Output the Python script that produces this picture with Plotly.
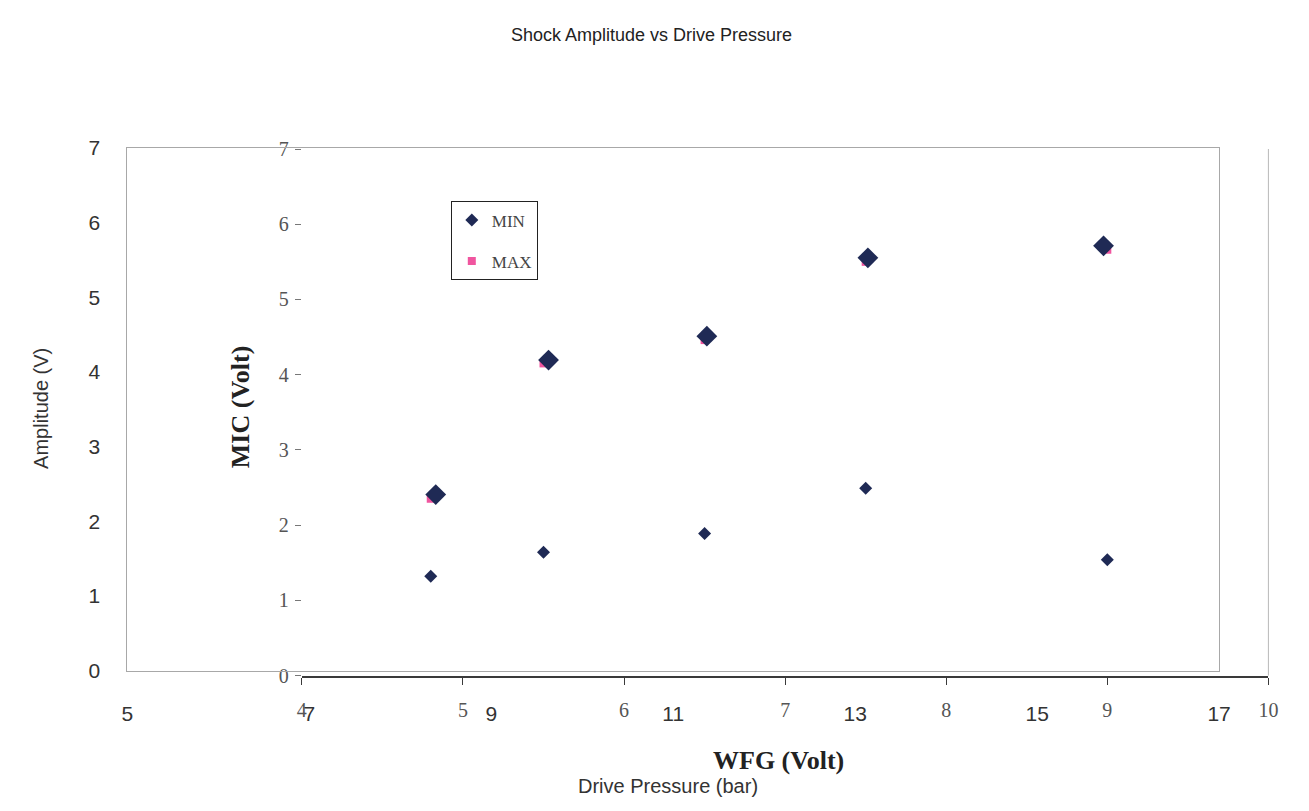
import plotly.graph_objects as go

W, H = 1309, 811

# Inner chart: MIC vs WFG
wfg = [4.8, 5.5, 6.5, 7.5, 9.0]
mic_min = [1.32, 1.64, 1.89, 2.49, 1.54]
mic_max = [2.35, 4.15, 4.46, 5.5, 5.66]

# Outer chart: Shock amplitude vs drive pressure
pressure = [8.39, 9.63, 11.37, 13.14, 15.73]
amplitude = [2.36, 4.16, 4.48, 5.53, 5.69]

outer_x_ticks = [5, 7, 9, 11, 13, 15, 17]
outer_y_ticks = [0, 1, 2, 3, 4, 5, 6, 7]
inner_x_ticks = [4, 5, 6, 7, 8, 9, 10]
inner_y_ticks = [0, 1, 2, 3, 4, 5, 6, 7]


def px(x):
    return x / W


def py(y):
    return 1 - y / H


NAVY = "#1f2a55"
PINK = "#f0559f"
SANS = "Liberation Sans, Arial, sans-serif"
SERIF = "Liberation Serif, Times New Roman, serif"

fig = go.Figure()

fig.add_trace(go.Scatter(
    x=wfg, y=mic_max, name="MAX", mode="markers",
    xaxis="x", yaxis="y", legendgroup="b", legendrank=2,
    marker=dict(symbol="square", size=8, color=PINK),
))
fig.add_trace(go.Scatter(
    x=wfg, y=mic_min, name="MIN", mode="markers",
    xaxis="x", yaxis="y", legendgroup="a", legendrank=1,
    marker=dict(symbol="diamond", size=10, color=NAVY),
))
fig.add_trace(go.Scatter(
    x=pressure, y=amplitude, name="Amplitude", mode="markers",
    xaxis="x2", yaxis="y2", showlegend=False,
    marker=dict(symbol="diamond", size=16, color=NAVY),
))

fig.update_layout(
    width=W, height=H,
    margin=dict(l=0, r=0, t=0, b=0),
    paper_bgcolor="white",
    plot_bgcolor="rgba(0,0,0,0)",
    showlegend=True,
    legend=dict(
        x=px(451), y=py(195), xanchor="left", yanchor="top",
        bordercolor="#222", borderwidth=1, bgcolor="white",
        font=dict(family=SERIF, size=17, color="#444"),
        traceorder="grouped", tracegroupgap=16, itemwidth=30,
    ),
    # inner axes (WFG / MIC)
    xaxis=dict(
        domain=[px(300), px(1280)], range=[4, 10], anchor="y",
        tickvals=inner_x_ticks, showgrid=False, zeroline=False,
        showline=True, linecolor="#3a3a3a", linewidth=2,
        ticks="outside", ticklen=7, tickcolor="#3a3a3a", tickwidth=1,
        tickfont=dict(family=SERIF, size=20, color="#555"),
        ticklabelstandoff=8,
    ),
    yaxis=dict(
        domain=[py(683), py(141)], range=[0, 7], anchor="x",
        tickvals=inner_y_ticks, showgrid=False, zeroline=False,
        showline=False,
        ticks="outside", ticklen=6, tickcolor="#777", tickwidth=1,
        tickfont=dict(family=SERIF, size=20, color="#555"),
        ticklabelstandoff=2,
    ),
    # outer axes (Drive pressure / Amplitude)
    xaxis2=dict(
        domain=[px(123), px(1230)], range=[5, 17], anchor="y2",
        tickvals=outer_x_ticks, showgrid=False, zeroline=False,
        showline=True, mirror=True, linecolor="#a8a8a8", linewidth=1,
        ticks="", tickfont=dict(family=SANS, size=21, color="#333"),
        ticklabelstandoff=24,
    ),
    yaxis2=dict(
        domain=[py(678), py(140)], range=[0, 7], anchor="x2",
        tickvals=outer_y_ticks, showgrid=False, zeroline=False,
        showline=True, mirror=True, linecolor="#a8a8a8", linewidth=1,
        ticks="", tickfont=dict(family=SANS, size=21, color="#333"),
        ticklabelstandoff=22,
    ),
    shapes=[dict(
        type="line", xref="x domain", yref="y domain",
        x0=1, x1=1, y0=0, y1=1,
        line=dict(color="#b8b8b8", width=1),
    )],
    annotations=[
        dict(text="Shock Amplitude vs Drive Pressure", x=px(654), y=py(24),
             xref="paper", yref="paper", showarrow=False,
             xanchor="center", yanchor="middle",
             font=dict(family=SANS, size=18, color="#222")),
        dict(text="Amplitude (V)", x=px(36), y=py(408), textangle=-90,
             xref="paper", yref="paper", showarrow=False,
             xanchor="center", yanchor="middle",
             font=dict(family=SANS, size=20, color="#333")),
        dict(text="<b>MIC (Volt)</b>", x=px(238), y=py(406), textangle=-90,
             xref="paper", yref="paper", showarrow=False,
             xanchor="center", yanchor="middle",
             font=dict(family=SERIF, size=26, color="#222")),
        dict(text="<b>WFG (Volt)</b>", x=px(783), y=py(770),
             xref="paper", yref="paper", showarrow=False,
             xanchor="center", yanchor="middle",
             font=dict(family=SERIF, size=26, color="#222")),
        dict(text="Drive Pressure (bar)", x=px(671), y=py(797),
             xref="paper", yref="paper", showarrow=False,
             xanchor="center", yanchor="middle",
             font=dict(family=SANS, size=20, color="#333")),
    ],
)

fig.write_html("out.html")
